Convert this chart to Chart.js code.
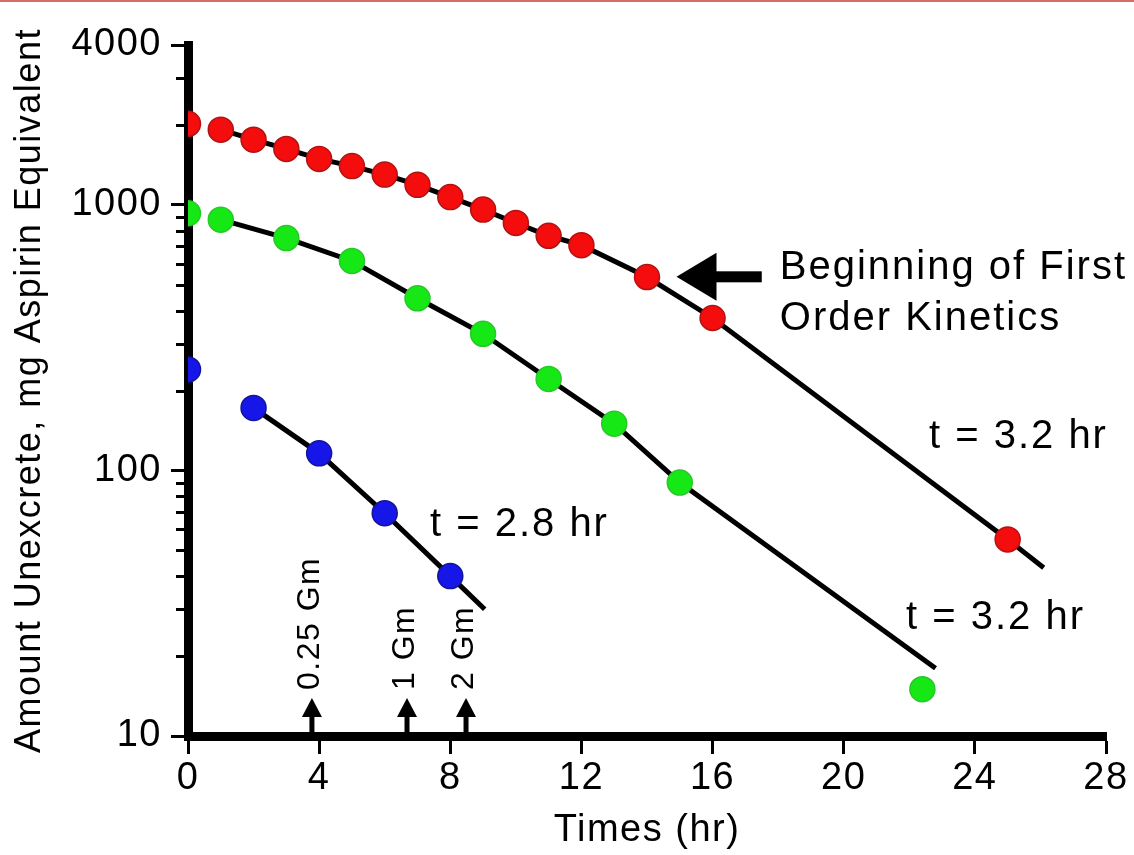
<!DOCTYPE html>
<html>
<head>
<meta charset="utf-8">
<script src="https://cdn.jsdelivr.net/npm/chart.js@4.4.1/dist/chart.umd.min.js"></script>
<style>
  html, body { margin: 0; padding: 0; background: #fff; }
  #wrap { position: relative; width: 1134px; height: 855px; }
</style>
</head>
<body>
<div id="wrap"><canvas id="chart"></canvas></div>
<script>
// axis ticks
const xTicks = [0, 4, 8, 12, 16, 20, 24, 28];
const yTickLabels = [10, 100, 1000, 4000];

// measured points (time in hr, mg aspirin equivalent)
const redTimes = [0, 1, 2, 3, 4, 5, 6, 7, 8, 9, 10, 11, 12, 14, 16, 25];
const redValues = [2020, 1920, 1760, 1625, 1490, 1400, 1300, 1190, 1070, 960, 855, 765, 705, 535, 375, 55];
const greenTimes = [0, 1, 3, 5, 7, 9, 11, 13, 15, 22.4];
const greenValues = [930, 880, 750, 615, 445, 327, 221, 150, 90, 15];
const blueTimes = [0, 2, 4, 6, 8];
const blueValues = [240, 172, 116, 69, 40];

// where each drawn decay line stops, past its last point
const redLineEnd = [26.1, 43];
const greenLineEnd = [22.8, 18];
const blueLineEnd = [9.05, 30];

// annotations
const noteTexts = ["Beginning of First", "Order Kinetics", "t = 3.2 hr", "t = 3.2 hr", "t = 2.8 hr"];
const notePos = [[18.05, 579], [18.05, 372], [22.6, 134], [21.9, 27.8], [7.38, 62.4]];
const arrowFrom = [17.5, 536];
const arrowTo = [14.9, 536];
const doseLabels = ["0.25 Gm", "1 Gm", "2 Gm"];
const doseTimes = [3.78, 6.68, 8.48];

const FONT = '"Liberation Sans", Arial, sans-serif';

function pts(times, values, from, to) {
  const out = [];
  for (let i = from; i < to; i++) out.push({ x: times[i], y: values[i] });
  return out;
}

function dots(label, times, values, fill, edge) {
  return {
    label: label,
    data: pts(times, values, 0, times.length),
    showLine: false,
    pointRadius: 12.5,
    pointBackgroundColor: fill,
    pointBorderColor: edge,
    pointBorderWidth: 1.5,
    order: 0
  };
}

function fitLine(label, times, values, from, to, end) {
  const d = pts(times, values, from, to);
  d.push({ x: end[0], y: end[1] });
  return {
    label: label,
    data: d,
    showLine: true,
    borderColor: "#000",
    borderWidth: 5,
    pointRadius: 0,
    tension: 0,
    order: 1
  };
}

const annotations = {
  id: "annotations",
  beforeLayout(chart) { chart.ctx.letterSpacing = "1.5px"; },
  beforeDraw(chart) { chart.ctx.letterSpacing = "1.5px"; },
  afterDraw(chart) {
    const ctx = chart.ctx;
    const xs = chart.scales.x, ys = chart.scales.y;
    const area = chart.chartArea;
    ctx.save();

    // thin header rule at the top of the slide
    ctx.fillStyle = "rgb(216,108,98)";
    ctx.fillRect(0, 0, chart.width, 2);

    // minor log ticks
    ctx.strokeStyle = "#000";
    ctx.lineWidth = 3;
    for (let dec = 10; dec < ys.max; dec *= 10) {
      for (let m = 2; m <= 9; m++) {
        const v = m * dec;
        if (v >= ys.max) break;
        const py = Math.round(ys.getPixelForValue(v)) + 0.5;
        ctx.beginPath();
        ctx.moveTo(area.left - 12, py);
        ctx.lineTo(area.left, py);
        ctx.stroke();
      }
    }

    // text notes
    ctx.fillStyle = "#000";
    ctx.letterSpacing = "2px";
    ctx.font = "40px " + FONT;
    ctx.textAlign = "left";
    ctx.textBaseline = "middle";
    noteTexts.forEach((t, i) => {
      ctx.fillText(t, xs.getPixelForValue(notePos[i][0]), ys.getPixelForValue(notePos[i][1]));
    });

    // big arrow pointing at the bend in the red curve
    const ax = xs.getPixelForValue(arrowTo[0]);
    const ay = ys.getPixelForValue(arrowTo[1]);
    const tail = xs.getPixelForValue(arrowFrom[0]);
    ctx.beginPath();
    ctx.moveTo(ax, ay);
    ctx.lineTo(ax + 40, ay - 24);
    ctx.lineTo(ax + 40, ay + 24);
    ctx.closePath();
    ctx.fill();
    ctx.fillRect(ax + 38, ay - 5.5, tail - ax - 38, 11);

    // dose arrows on the time axis
    ctx.font = "32px " + FONT;
    ctx.letterSpacing = "1.5px";
    const base = area.bottom - 4;
    doseTimes.forEach((t, i) => {
      const px = xs.getPixelForValue(t);
      const tip = base - 34;
      ctx.beginPath();
      ctx.moveTo(px, tip);
      ctx.lineTo(px - 10, tip + 19);
      ctx.lineTo(px + 10, tip + 19);
      ctx.closePath();
      ctx.fill();
      ctx.fillRect(px - 2.5, tip + 18, 5, base - tip - 18);

      ctx.save();
      ctx.translate(px - 2, tip - 8);
      ctx.rotate(-Math.PI / 2);
      ctx.textAlign = "left";
      ctx.textBaseline = "middle";
      ctx.fillText(doseLabels[i], 0, 0);
      ctx.restore();
    });

    ctx.restore();
  }
};

new Chart(document.getElementById("chart"), {
  type: "scatter",
  data: {
    datasets: [
      dots("red", redTimes, redValues, "rgb(245,12,12)", "rgb(175,20,20)"),
      dots("green", greenTimes, greenValues, "rgb(22,232,22)", "rgb(40,200,40)"),
      dots("blue", blueTimes, blueValues, "rgb(22,22,232)", "rgb(20,20,150)"),
      fitLine("red line", redTimes, redValues, 1, redTimes.length, redLineEnd),
      fitLine("green line", greenTimes, greenValues, 1, 9, greenLineEnd),
      fitLine("blue line", blueTimes, blueValues, 1, blueTimes.length, blueLineEnd)
    ]
  },
  options: {
    responsive: true,
    maintainAspectRatio: false,
    animation: false,
    layout: { padding: { top: 45, right: 28, left: 0, bottom: 0 } },
    plugins: { legend: { display: false }, tooltip: { enabled: false } },
    scales: {
      x: {
        type: "linear",
        min: 0,
        max: 28,
        afterBuildTicks: (s) => { s.ticks = xTicks.map(v => ({ value: v })); },
        afterFit: (s) => { s.height = 119; },
        border: { display: true, color: "#000", width: 9 },
        grid: { display: true, drawOnChartArea: false, drawTicks: true, tickLength: 18, tickWidth: 3, tickColor: "#000" },
        ticks: { color: "#000", font: { family: FONT, size: 38 }, padding: 2, maxRotation: 0, autoSkip: false },
        title: { display: true, text: "Times (hr)", color: "#000", font: { family: FONT, size: 38 }, padding: { top: 0, bottom: 2 } }
      },
      y: {
        type: "logarithmic",
        min: 10,
        max: 4000,
        afterBuildTicks: (s) => { s.ticks = yTickLabels.map(v => ({ value: v })); },
        afterFit: (s) => { s.width = 188; },
        border: { display: true, color: "#000", width: 9 },
        grid: { display: true, drawOnChartArea: false, drawTicks: true, tickLength: 17, tickWidth: 3, tickColor: "#000" },
        ticks: { color: "#000", font: { family: FONT, size: 38 }, padding: 9, callback: (v) => String(v) },
        title: { display: true, text: "Amount Unexcrete, mg Aspirin Equivalent", color: "#000", font: { family: FONT, size: 36 }, padding: { top: 8, bottom: 0 } }
      }
    }
  },
  plugins: [annotations]
});
</script>
</body>
</html>
